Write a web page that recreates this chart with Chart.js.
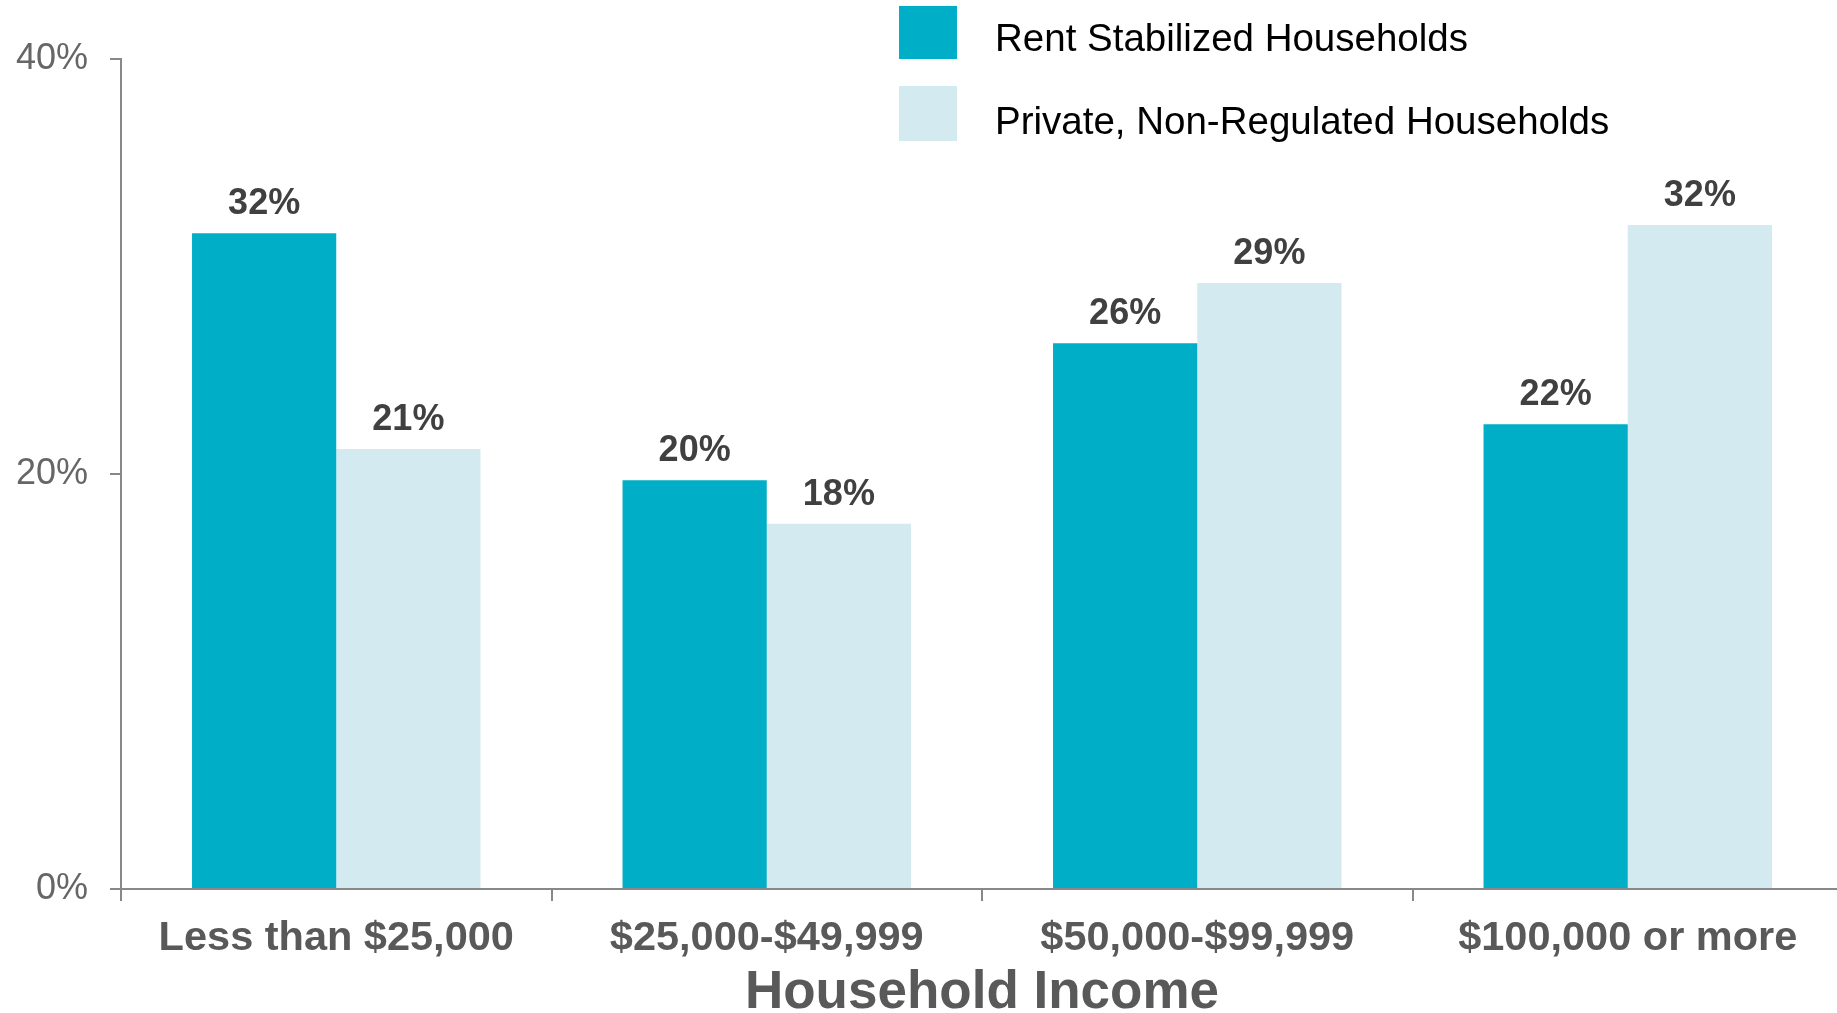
<!DOCTYPE html>
<html>
<head>
<meta charset="utf-8">
<script src="https://cdn.jsdelivr.net/npm/chart.js@4.4.0/dist/chart.umd.min.js"></script>
<style>
  html, body { margin: 0; padding: 0; background: #fff; overflow: hidden; width: 1837px; height: 1013px; }
  #wrap { position: absolute; left: 0; top: 0; width: 1845px; height: 1025px; }
  .leg { position: absolute; font-family: "Liberation Sans", Arial, sans-serif; font-size: 38.5px; color: #000; white-space: nowrap; }
  .sw { position: absolute; width: 58px; }
</style>
</head>
<body>
<div id="wrap"><canvas id="c" width="1845" height="1025"></canvas></div>
<div class="sw" id="sw0" style="left:899px; top:6px; height:53px;"></div>
<div class="leg" id="lg0" style="left:995px; top:16px;"></div>
<div class="sw" id="sw1" style="left:899px; top:86px; height:55px;"></div>
<div class="leg" id="lg1" style="left:995px; top:99px;"></div>
<script>
const categories = ["Less than $25,000", "$25,000-$49,999", "$50,000-$99,999", "$100,000 or more"];
const seriesNames = ["Rent Stabilized Households", "Private, Non-Regulated Households"];
const rentStabilized = [31.6, 19.7, 26.3, 22.4];
const privateNonRegulated = [21.2, 17.6, 29.2, 32.0];
const yTicks = [0, 20, 40];
const axisTitle = "Household Income";
const colors = ["#00AEC7", "#D2EAF0"];

document.getElementById('sw0').style.background = colors[0];
document.getElementById('sw1').style.background = colors[1];
document.getElementById('lg0').textContent = seriesNames[0];
document.getElementById('lg1').textContent = seriesNames[1];

const valueLabels = {
  id: 'valueLabels',
  afterDatasetsDraw(chart) {
    const ctx = chart.ctx;
    ctx.save();
    ctx.font = 'bold 36px "Liberation Sans", Arial, sans-serif';
    ctx.fillStyle = '#404040';
    ctx.textAlign = 'center';
    ctx.textBaseline = 'alphabetic';
    chart.data.datasets.forEach((ds, i) => {
      chart.getDatasetMeta(i).data.forEach((bar, j) => {
        ctx.fillText(Math.round(ds.data[j]) + '%', bar.x, bar.y - 19);
      });
    });
    ctx.restore();
  }
};

new Chart(document.getElementById('c'), {
  type: 'bar',
  data: {
    labels: categories,
    datasets: [
      { label: seriesNames[0], data: rentStabilized, backgroundColor: colors[0] },
      { label: seriesNames[1], data: privateNonRegulated, backgroundColor: colors[1] }
    ]
  },
  options: {
    responsive: false,
    animation: false,
    devicePixelRatio: 1,
    layout: { padding: { top: 59, left: 0, right: 2, bottom: 0 } },
    datasets: { bar: { categoryPercentage: 0.67, barPercentage: 1.0 } },
    plugins: { legend: { display: false }, tooltip: { enabled: false } },
    scales: {
      x: {
        grid: { display: true, drawOnChartArea: false, drawTicks: true, tickLength: 12, color: '#888', lineWidth: 2, offset: true },
        border: { display: true, color: '#888', width: 2 },
        ticks: { color: '#595959', font: { family: '"Liberation Sans", Arial, sans-serif', size: 41.5, weight: 'bold' }, padding: 13, maxRotation: 0, autoSkip: false },
        title: { display: true, text: axisTitle, color: '#595959', font: { family: '"Liberation Sans", Arial, sans-serif', size: 53, weight: 'bold' }, padding: { top: 0, bottom: 0 } },
        afterFit(s) { s.height = 136; }
      },
      y: {
        min: 0, max: 40,
        afterBuildTicks(s) { s.ticks = yTicks.map(v => ({ value: v })); },
        grid: { display: true, drawOnChartArea: false, drawTicks: true, tickLength: 11, color: '#888', lineWidth: 2 },
        border: { display: true, color: '#888', width: 2 },
        ticks: { color: '#666', font: { family: '"Liberation Sans", Arial, sans-serif', size: 36 }, padding: 22, callback: v => v + '%' },
        afterFit(s) { s.width = 121; }
      }
    }
  },
  plugins: [valueLabels]
});
</script>
</body>
</html>
